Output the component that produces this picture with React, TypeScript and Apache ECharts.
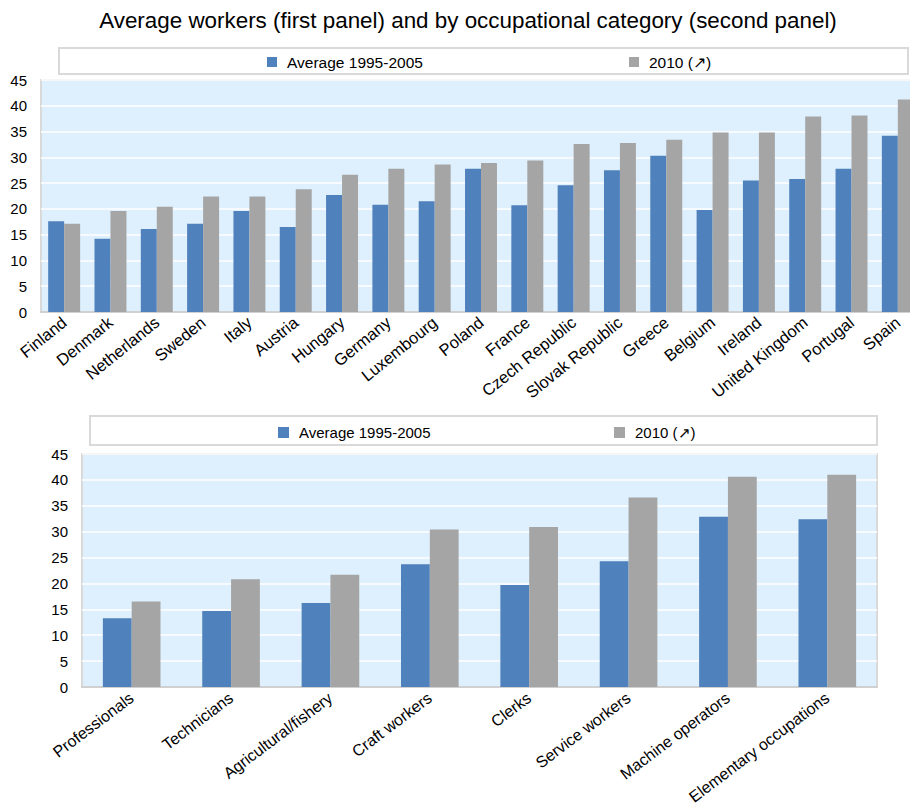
import React, { useEffect, useRef } from "react";
import * as echarts from "echarts";

const countries = [
  "Finland", "Denmark", "Netherlands", "Sweden", "Italy", "Austria", "Hungary",
  "Germany", "Luxembourg", "Poland", "France", "Czech Republic", "Slovak Republic",
  "Greece", "Belgium", "Ireland", "United Kingdom", "Portugal", "Spain",
];
const countryAvg = [17.6, 14.2, 16.1, 17.1, 19.6, 16.5, 22.7, 20.8, 21.5, 27.8, 20.7, 24.6, 27.5, 30.3, 19.8, 25.5, 25.8, 27.8, 34.2];
const country2010 = [17.1, 19.6, 20.4, 22.4, 22.4, 23.8, 26.6, 27.8, 28.6, 28.9, 29.4, 32.6, 32.8, 33.4, 34.8, 34.8, 37.9, 38.1, 41.2];

const occupations = [
  "Professionals", "Technicians", "Agricultural/fishery", "Craft workers",
  "Clerks", "Service workers", "Machine operators", "Elementary occupations",
];
const occAvg = [13.3, 14.7, 16.2, 23.7, 19.7, 24.3, 32.9, 32.4];
const occ2010 = [16.5, 20.8, 21.7, 30.4, 30.9, 36.6, 40.6, 41.0];

const yTicks = { min: 0, max: 45, interval: 5 };
const seriesNames = ["Average 1995-2005", "2010 (\u2197)"];
const titleText = "Average workers (first panel) and by occupational category (second panel)";

const BLUE = "#4f81bd";
const GRAY = "#a5a5a5";
const BG = "#def0fd";
const FONT = "Liberation Sans, Arial, sans-serif";

export default function App() {
  const ref = useRef<HTMLDivElement>(null);
  useEffect(() => {
    if (!ref.current) return;
    const chart = echarts.init(ref.current, null, { renderer: "svg" });
    const yAxisBase = (gridIndex: number) => ({
      type: "value",
      gridIndex,
      min: yTicks.min,
      max: yTicks.max,
      interval: yTicks.interval,
      axisLine: { show: false },
      axisTick: { show: false },
      axisLabel: { color: "#000", fontSize: 15, fontFamily: FONT, margin: 14 },
      splitLine: { show: true, lineStyle: { color: "#ffffff", width: 1.5 } },
    });
    const legendItem = (name: string, left: number, top: number, size: number, fontSize: number) => ({
      data: [name],
      left,
      top,
      padding: 0,
      itemWidth: size,
      itemHeight: size,
      selectedMode: false,
      icon: "rect",
      textStyle: { color: "#000", fontSize, fontFamily: FONT, padding: [0, 0, 0, 5], lineHeight: size + 4 },
    });
    chart.setOption({
      animation: false,
      title: {
        text: titleText,
        left: 463,
        textAlign: "center",
        top: 4,
        textStyle: { color: "#000", fontSize: 22.4, fontWeight: "normal", fontFamily: FONT },
      },
      graphic: [
        { type: "rect", shape: { x: 59, y: 48, width: 849, height: 26 }, style: { fill: "#fff", stroke: "#d9d9d9", lineWidth: 2 }, z: -1 },
        { type: "rect", shape: { x: 90, y: 416, width: 787, height: 29 }, style: { fill: "#fff", stroke: "#d9d9d9", lineWidth: 2 }, z: -1 },
      ],
      legend: [
        legendItem(seriesNames[0], 267, 54, 10, 15.5),
        legendItem(seriesNames[1], 629, 54, 10, 15.5),
        legendItem(seriesNames[0], 278, 425, 11, 15),
        legendItem(seriesNames[1], 614, 425, 11, 15),
      ],
      grid: [
        { left: 41, top: 80, width: 880, height: 232, show: true, backgroundColor: BG, borderColor: "#d9d9d9", borderWidth: 2, containLabel: false, outerBoundsMode: "none" },
        { left: 82, top: 454, width: 795, height: 233, show: true, backgroundColor: BG, borderColor: "#d9d9d9", borderWidth: 2, containLabel: false, outerBoundsMode: "none" },
      ],
      xAxis: [
        {
          type: "category",
          gridIndex: 0,
          data: countries,
          axisLine: { show: true, lineStyle: { color: "#d0d0d0", width: 2 } },
          axisTick: { show: false },
          axisLabel: { color: "#000", fontSize: 16.5, fontFamily: FONT, rotate: 39, margin: 8, interval: 0 },
        },
        {
          type: "category",
          gridIndex: 1,
          data: occupations,
          axisLine: { show: true, lineStyle: { color: "#d0d0d0", width: 2 } },
          axisTick: { show: false },
          axisLabel: { color: "#000", fontSize: 16, fontFamily: FONT, rotate: 37, margin: 9, interval: 0 },
        },
      ],
      yAxis: [yAxisBase(0), yAxisBase(1)],
      series: [
        { name: seriesNames[0], type: "bar", xAxisIndex: 0, yAxisIndex: 0, data: countryAvg, itemStyle: { color: BLUE }, barGap: "0%", barCategoryGap: "31%" },
        { name: seriesNames[1], type: "bar", xAxisIndex: 0, yAxisIndex: 0, data: country2010, itemStyle: { color: GRAY }, barGap: "0%", barCategoryGap: "31%" },
        { name: seriesNames[0], type: "bar", xAxisIndex: 1, yAxisIndex: 1, data: occAvg, itemStyle: { color: BLUE }, barGap: "0%", barCategoryGap: "42%" },
        { name: seriesNames[1], type: "bar", xAxisIndex: 1, yAxisIndex: 1, data: occ2010, itemStyle: { color: GRAY }, barGap: "0%", barCategoryGap: "42%" },
      ],
    });
    return () => chart.dispose();
  }, []);
  return (
    <div style={{ position: "fixed", left: 0, top: 0, width: 910, height: 812, overflow: "hidden", background: "#fff" }}>
      <div ref={ref} style={{ width: 925, height: 812 }} />
    </div>
  );
}
